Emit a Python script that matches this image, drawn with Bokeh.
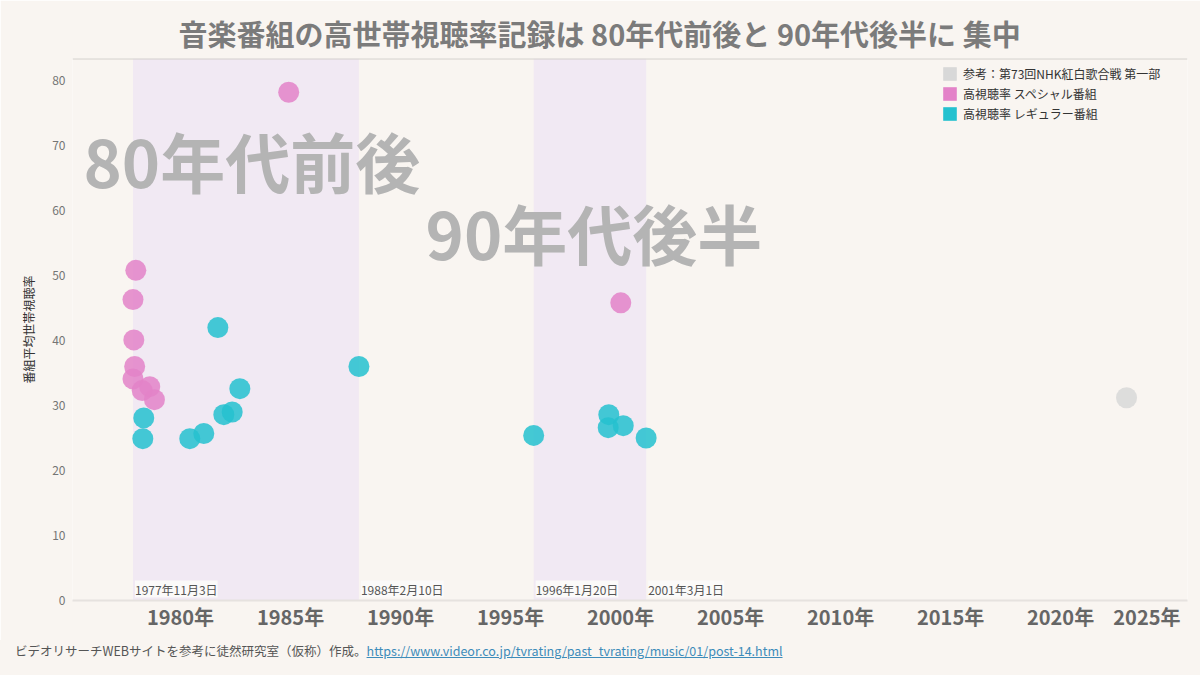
import pandas as pd
from bokeh.plotting import figure
from bokeh.models import (ColumnDataSource, Range1d, FixedTicker, DatetimeTickFormatter,
                          LabelSet, Div, Span)
from bokeh.layouts import column
from bokeh.embed import file_html
from bokeh.resources import INLINE
from bokeh.core.properties import value

TITLE = "音楽番組の高世帯視聴率記録は 80年代前後と 90年代後半に 集中"
Y_LABEL = "番組平均世帯視聴率"
SOURCE_NOTE = "ビデオリサーチWEBサイトを参考に徒然研究室（仮称）作成。"
SOURCE_URL = "https://www.videor.co.jp/tvrating/past_tvrating/music/01/post-14.html"

# 高視聴率 スペシャル番組
SPECIAL_DATES = ["1977-12-20", "1977-11-03", "1977-11-17", "1977-12-01", "1977-11-03",
                 "1978-04-05", "1978-08-08", "1978-10-25", "1984-12-01", "2000-01-05"]
SPECIAL_RATINGS = [50.8, 46.3, 40.1, 36.0, 34.1, 32.3, 32.9, 30.9, 78.2, 45.8]

# 高視聴率 レギュラー番組
REGULAR_DATES = ["1978-05-01", "1978-04-15", "1980-06-03", "1981-01-22", "1981-09-12",
                 "1981-12-20", "1982-05-08", "1982-09-12", "1988-02-10", "1996-01-20",
                 "1999-06-20", "1999-06-10", "2000-02-15", "2001-03-01"]
REGULAR_RATINGS = [28.1, 24.9, 24.9, 25.7, 42.0, 28.6, 29.0, 32.6, 36.0, 25.4,
                   28.6, 26.6, 26.9, 25.0]

# 参考：第73回NHK紅白歌合戦 第一部
KOHAKU_DATES = ["2022-12-31"]
KOHAKU_RATINGS = [31.2]

BAND_STARTS = ["1977-11-03", "1996-01-20"]
BAND_ENDS = ["1988-02-10", "2001-03-01"]
BAND_TEXTS = ["80年代前後", "90年代後半"]

TICK_YEARS = [1980, 1985, 1990, 1995, 2000, 2005, 2010, 2015, 2020, 2025]
Y_TICKS = [0, 10, 20, 30, 40, 50, 60, 70, 80]

LEGEND_LABELS = ["参考：第73回NHK紅白歌合戦 第一部", "高視聴率 スペシャル番組", "高視聴率 レギュラー番組"]

BG = "#f9f5f1"
BAND_COLOR = "#f1e9f3"
PINK = "#e382c8"
CYAN = "#24c1cf"
GREY = "#d8d8d8"
JP = "Noto Sans CJK JP"

X_START = pd.Timestamp("1975-02-03")
X_END = pd.Timestamp("2025-10-08")
Y_MAX = 83.4


def to_dt(dates):
    return pd.to_datetime(pd.Series(dates))


def jp_date(d):
    return "{}年{}月{}日".format(d.year, d.month, d.day)


p = figure(width=1200, height=640, x_axis_type="datetime",
           x_range=Range1d(X_START, X_END), y_range=Range1d(0, Y_MAX),
           output_backend="svg", toolbar_location=None, tools="",
           min_border_left=72, min_border_right=13, min_border_top=58, min_border_bottom=40,
           background_fill_color=BG, border_fill_color=BG)
p.outline_line_color = None
p.grid.visible = False

p.title.text = TITLE
p.title.align = "left"
p.title.offset = 106
p.title.standoff = 9
p.title.text_font = JP
p.title.text_font_size = "29px"
p.title.text_font_style = "bold"
p.title.text_color = "#7b7b7b"

# shaded periods
bands = ColumnDataSource(dict(left=to_dt(BAND_STARTS), right=to_dt(BAND_ENDS)))
p.quad(left="left", right="right", bottom=0, top=Y_MAX, source=bands,
       fill_color=BAND_COLOR, line_color=None)

# big period labels
big = ColumnDataSource(dict(x=to_dt(["1975-08-05", "1991-02-20"]), y=[67.8, 56.7], text=BAND_TEXTS))
p.text(x="x", y="y", text="text", source=big, text_font=value(JP), text_font_style="bold",
       text_font_size="65px", text_color="#b4b4b4", text_align="left", text_baseline="middle")

# legend swatches (no data, legend only)
nan = float("nan")
for lab, col in zip(LEGEND_LABELS, [GREY, PINK, CYAN]):
    p.quad(left=[nan], right=[nan], top=[nan], bottom=[nan], fill_color=col, line_color=None,
           legend_label=lab)

p.scatter(to_dt(KOHAKU_DATES), KOHAKU_RATINGS, size=21, fill_color=GREY, line_color=None, fill_alpha=0.85)
p.scatter(to_dt(SPECIAL_DATES), SPECIAL_RATINGS, size=21, fill_color=PINK, line_color=None, fill_alpha=0.85)
p.scatter(to_dt(REGULAR_DATES), REGULAR_RATINGS, size=21, fill_color=CYAN, line_color=None, fill_alpha=0.85)

# band edge date labels
edges = sorted(list(to_dt(BAND_STARTS)) + list(to_dt(BAND_ENDS)))
edge_src = ColumnDataSource(dict(x=edges, y=[0] * len(edges), text=[jp_date(d) for d in edges]))
p.add_layout(LabelSet(x="x", y="y", text="text", source=edge_src, x_offset=2, y_offset=3,
                      text_font=value(JP), text_font_size="12px", text_color="#555555",
                      text_baseline="bottom", background_fill_color="#fbfaf9"))

p.add_layout(Span(location=Y_MAX, dimension="width", line_color="#d4d0cc", line_width=2))

tick_ms = [pd.Timestamp("{}-01-01".format(y)).value / 1e6 for y in TICK_YEARS]
xa = p.xaxis[0]
xa.ticker = FixedTicker(ticks=tick_ms)
xa.formatter = DatetimeTickFormatter(years="%Y年", months="%Y年", days="%Y年", hours="%Y年")
# the last label sits against the right edge, pad it so it is pulled inside the canvas
xa.major_label_overrides = {tick_ms[-1]: "{}年\u3000".format(TICK_YEARS[-1])}
xa.major_label_text_font = JP
xa.major_label_text_font_size = "20px"
xa.major_label_text_font_style = "bold"
xa.major_label_text_color = "#666666"
xa.axis_line_color = "#e6e2df"
xa.axis_line_width = 2
xa.major_tick_line_color = None
xa.minor_tick_line_color = None
xa.major_tick_out = 0
xa.major_label_standoff = 1

ya = p.yaxis[0]
ya.ticker = FixedTicker(ticks=Y_TICKS)
ya.axis_line_color = None
ya.major_tick_line_color = None
ya.minor_tick_line_color = None
ya.major_tick_out = 0
ya.major_label_text_font = JP
ya.major_label_text_font_size = "12px"
ya.major_label_text_color = "#757575"
ya.major_label_standoff = 7
ya.axis_label = Y_LABEL
ya.axis_label_text_font = JP
ya.axis_label_text_font_size = "12px"
ya.axis_label_text_font_style = "normal"
ya.axis_label_text_color = "#333333"
ya.axis_label_standoff = 12

lg = p.legend[0]
lg.location = (869, 478)
lg.margin = 0
lg.padding = 0
lg.spacing = 3
lg.glyph_width = 17
lg.glyph_height = 17
lg.label_height = 17
lg.label_standoff = 5
lg.label_text_font = JP
lg.label_text_font_size = "12px"
lg.label_text_color = "#333333"
lg.border_line_color = None
lg.background_fill_alpha = 0

footer = Div(text='<span style="color:#555">{}</span><a href="{}" style="color:#3d8cba;text-decoration:underline">{}</a>'
             .format(SOURCE_NOTE, SOURCE_URL, SOURCE_URL),
             width=1200, height=35, margin=(0, 0, 0, 0),
             styles={"font-family": JP, "font-size": "12.5px", "padding": "2px 0 0 15px",
                     "background-color": BG, "box-sizing": "border-box"})

layout = column(p, footer, spacing=0)
open("out.html", "w").write(file_html(layout, INLINE))
